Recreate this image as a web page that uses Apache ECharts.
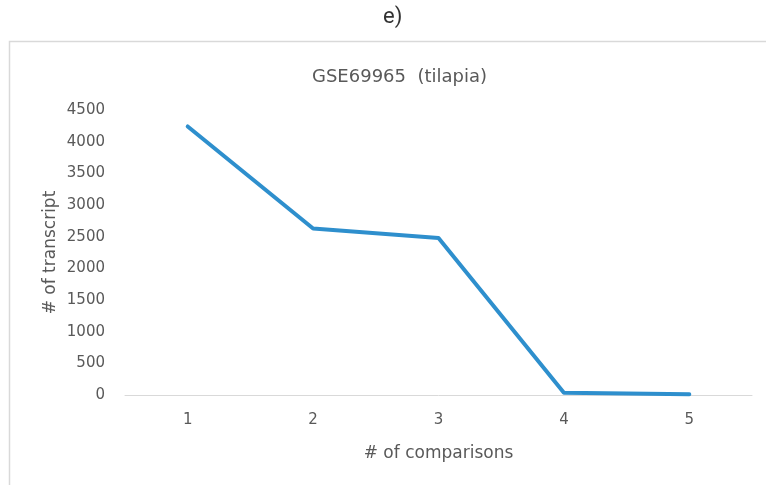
<!DOCTYPE html>
<html>
<head>
<meta charset="utf-8">
<script src="https://cdn.jsdelivr.net/npm/echarts@6/dist/echarts.min.js"></script>
<style>
  html, body { margin: 0; padding: 0; background: #fff; }
  #chart { width: 766px; height: 485px; }
</style>
</head>
<body>
<div id="chart"></div>
<script>
// Number of comparisons vs. number of transcripts (GSE69965, tilapia)
const categories = ['1', '2', '3', '4', '5'];
const transcripts = [4240, 2630, 2480, 35, 12];
const yMin = 0;
const yMax = 4500;
const yStep = 500;

const labelColor = '#595959';
const fontFamily = '"DejaVu Sans", "Open Sans", sans-serif';

const chart = echarts.init(document.getElementById('chart'));
chart.setOption({
  animation: false,
  backgroundColor: '#ffffff',
  graphic: [
    {
      type: 'text',
      left: 383,
      top: 6,
      style: { text: 'e)', fontSize: 22, fontFamily: 'Roboto', fontWeight: 'normal', fill: '#333' }
    },
    {
      type: 'rect',
      shape: { x: 9.5, y: 41.5, width: 800, height: 500 },
      style: { fill: 'none', stroke: '#d9d9d9', lineWidth: 1.5 },
      silent: true
    }
  ],
  title: {
    text: 'GSE69965  (tilapia)',
    left: 307,
    top: 63,
    textStyle: { color: labelColor, fontSize: 18, fontWeight: 'normal', fontFamily: fontFamily }
  },
  grid: { left: 125, right: 14, top: 110, bottom: 90 },
  xAxis: {
    type: 'category',
    data: categories,
    boundaryGap: true,
    name: '# of comparisons',
    nameLocation: 'middle',
    nameGap: 50,
    nameTextStyle: { color: labelColor, fontSize: 17, fontFamily: fontFamily },
    axisLine: { lineStyle: { color: '#d9d9d9', width: 1 } },
    axisTick: { show: false },
    axisLabel: { color: labelColor, fontSize: 15, fontFamily: fontFamily, margin: 18 }
  },
  yAxis: {
    type: 'value',
    min: yMin,
    max: yMax,
    interval: yStep,
    name: '# of transcript',
    nameLocation: 'middle',
    nameGap: 66,
    nameMoveOverlap: false,
    nameTextStyle: { color: labelColor, fontSize: 17, fontFamily: fontFamily },
    axisLine: { show: false },
    axisTick: { show: false },
    splitLine: { show: false },
    axisLabel: {
      color: labelColor, fontSize: 15, fontFamily: fontFamily, margin: 20,
      formatter: (v) => String(v)
    }
  },
  series: [{
    type: 'line',
    data: transcripts,
    symbol: 'none',
    lineStyle: { color: '#2e8fcd', width: 4, cap: 'round', join: 'round' }
  }]
});
</script>
</body>
</html>
